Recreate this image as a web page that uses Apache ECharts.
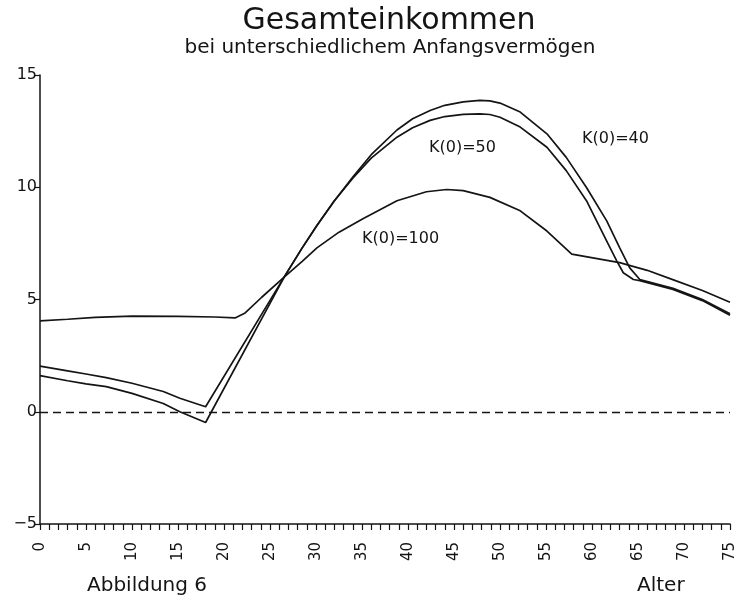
<!DOCTYPE html>
<html>
<head>
<meta charset="utf-8">
<script src="https://cdn.jsdelivr.net/npm/echarts@6/dist/echarts.min.js"></script>
<style>
  html, body { margin: 0; padding: 0; background: #fff; }
  #chart { width: 739px; height: 604px; }
</style>
</head>
<body>
<div id="chart"></div>
<script>
// Gesamteinkommen nach Alter, drei Anfangsvermoegen
var ages100 = [0, 3, 6, 10, 15, 19, 21.2, 22.3, 24.1, 26.6, 28.5, 30.1, 32.5, 35.1, 38.8, 42, 44.2, 46, 48.9, 52.2, 55.1, 57.8, 63, 66, 69, 72, 75];
var k100 = [4.05, 4.12, 4.2, 4.26, 4.25, 4.22, 4.18, 4.4, 5.1, 6.02, 6.7, 7.3, 8.0, 8.6, 9.4, 9.8, 9.9, 9.85, 9.55, 8.95, 8.05, 7.02, 6.64, 6.3, 5.85, 5.4, 4.88];

var ages50 = [0, 3, 5, 7.2, 10, 13.4, 15.2, 18, 26.6, 28.5, 30.1, 32, 34, 36, 38.8, 40.5, 42.4, 44, 46, 47.8, 48.9, 50, 52.2, 55.1, 57.2, 59.4, 61.6, 62.7, 63.4, 64.5, 65.2, 68.8, 72, 75];
var k50 = [2.03, 1.82, 1.68, 1.52, 1.27, 0.9, 0.6, 0.22, 6.04, 7.3, 8.3, 9.4, 10.4, 11.3, 12.23, 12.65, 12.98, 13.15, 13.25, 13.27, 13.24, 13.12, 12.68, 11.78, 10.74, 9.4, 7.6, 6.71, 6.19, 5.89, 5.84, 5.45, 4.95, 4.3];

var ages40 = [0, 3, 5, 7.2, 10, 13.4, 15.2, 18, 26.6, 28.5, 30.1, 32, 34, 36, 38.8, 40.5, 42.4, 44, 46, 47.8, 48.9, 50, 52.2, 55.1, 57.2, 59.4, 61.6, 63, 64.1, 65.2, 68.8, 72, 75];
var k40 = [1.61, 1.38, 1.24, 1.12, 0.82, 0.37, 0.0, -0.48, 6.04, 7.3, 8.3, 9.4, 10.45, 11.45, 12.55, 13.05, 13.42, 13.65, 13.8, 13.87, 13.85, 13.75, 13.35, 12.38, 11.33, 9.99, 8.5, 7.31, 6.41, 5.89, 5.5, 5.0, 4.36];

var seriesNames = ['K(0)=100', 'K(0)=50', 'K(0)=40'];
var yTicks = [-5, 0, 5, 10, 15];

function pairs(xs, ys) {
  return xs.map(function (x, i) { return [x, ys[i]]; });
}

var font = '"DejaVu Sans", sans-serif';
var ink = '#141414';

var chart = echarts.init(document.getElementById('chart'));

function lineSeries(name, data) {
  return {
    name: name,
    type: 'line',
    data: data,
    showSymbol: false,
    smooth: false,
    lineStyle: { color: ink, width: 1.7 },
    silent: true
  };
}

var series = [
  lineSeries(seriesNames[0], pairs(ages100, k100)),
  lineSeries(seriesNames[1], pairs(ages50, k50)),
  lineSeries(seriesNames[2], pairs(ages40, k40))
];
// gestrichelte Nulllinie
series[0].markLine = {
  silent: true,
  symbol: 'none',
  label: { show: false },
  lineStyle: { color: ink, width: 1.3, type: [8, 5] },
  data: [{ yAxis: 0 }]
};

var option = {
  backgroundColor: '#fff',
  animation: false,
  grid: { left: 40, right: 9, top: 75, bottom: 80 },
  xAxis: {
    type: 'value',
    min: 0,
    max: 75,
    interval: 1,
    axisLine: { onZero: false, lineStyle: { color: ink, width: 1.5 } },
    axisTick: { length: 6, lineStyle: { color: ink, width: 1.2 } },
    splitLine: { show: false },
    axisLabel: {
      rotate: 90,
      margin: 18,
      color: ink,
      fontFamily: font,
      fontSize: 15,
      formatter: function (v) { return v % 5 === 0 ? String(v) : ''; }
    }
  },
  yAxis: {
    type: 'value',
    min: yTicks[0],
    max: yTicks[yTicks.length - 1],
    interval: 5,
    axisLine: { show: true, onZero: false, lineStyle: { color: ink, width: 1.5 } },
    axisTick: { show: true, length: 5, lineStyle: { color: ink, width: 1.2 } },
    splitLine: { show: false },
    axisLabel: {
      margin: 3,
      color: ink,
      fontFamily: font,
      fontSize: 16,
      formatter: function (v) { return v < 0 ? '\u2212' + Math.abs(v) : String(v); }
    }
  },
  graphic: [
    { type: 'text', x: 389, y: 6, style: { text: 'Gesamteinkommen', font: '30px ' + font, fill: ink, align: 'center', verticalAlign: 'top' } },
    { type: 'text', x: 390, y: 38, style: { text: 'bei unterschiedlichem Anfangsvermögen', font: '20px ' + font, fill: ink, align: 'center', verticalAlign: 'top' } },
    { type: 'text', x: 429, y: 140, style: { text: seriesNames[1], font: '16px ' + font, fill: ink } },
    { type: 'text', x: 582, y: 131, style: { text: seriesNames[2], font: '16px ' + font, fill: ink } },
    { type: 'text', x: 362, y: 231, style: { text: seriesNames[0], font: '16px ' + font, fill: ink } },
    { type: 'text', x: 87, y: 576, style: { text: 'Abbildung 6', font: '20px ' + font, fill: ink } },
    { type: 'text', x: 637, y: 576, style: { text: 'Alter', font: '20px ' + font, fill: ink } }
  ],
  series: series
};

chart.setOption(option);
</script>
</body>
</html>
